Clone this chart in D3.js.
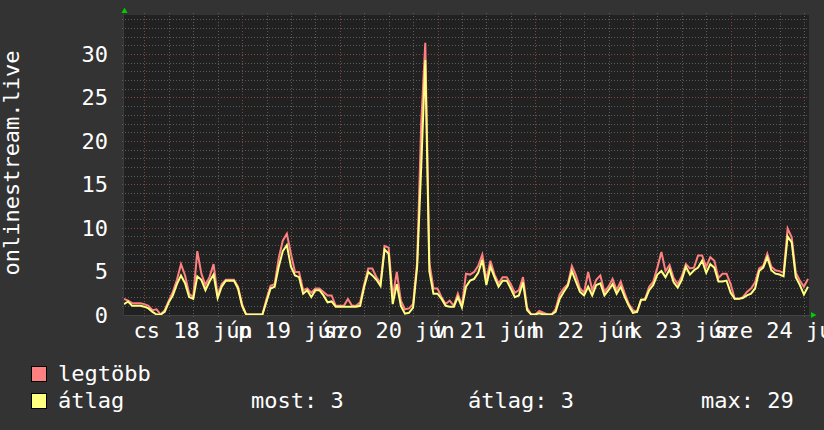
<!DOCTYPE html>
<html>
<head>
<meta charset="utf-8">
<script src="https://cdnjs.cloudflare.com/ajax/libs/d3/7.8.5/d3.min.js"></script>
<style>
body { margin: 0; background: #333333; }
svg text { font-family: "DejaVu Sans Mono", monospace; fill: #ffffff; }
</style>
</head>
<body>
<script>
var width = 824, height = 430;

// one sample per hour, from 2020-06-17 19:00 to 2020-06-24 19:00
var startTime = new Date(2020, 5, 17, 19, 0);
var endTime = new Date(2020, 5, 24, 19, 0);

var dayLabels = ["cs 18 jún", "p 19 jún", "szo 20 jún", "v 21 jún", "h 22 jún", "k 23 jún", "sze 24 jún"];
var labelDays = [18, 19, 20, 21, 22, 23, 24];
var yTicks = [0, 5, 10, 15, 20, 25, 30];

var maxValues = [1.8, 1.6, 1.3, 1.3, 1.3, 1.2, 1.0, 0.5, 0.6, 0, 0.5, 1.6, 2.6, 4.0, 5.8, 4.5, 2.4, 2.0, 7.3, 4.7,
  3.4, 4.3, 5.8, 2.2, 3.5, 4.0, 4.0, 4.0, 3.2, 1.2, 0, 0, 0, 0, 0, 1.8, 3.3, 3.5, 6.5, 8.5,
  9.3, 7.0, 4.9, 4.9, 2.8, 3.0, 2.5, 3.0, 3.0, 2.6, 2.2, 2.2, 1.0, 1.0, 1.0, 1.8, 1.0, 1.0, 1.4, 3.5,
  5.3, 5.3, 4.3, 3.6, 7.9, 7.7, 2.0, 4.9, 1.6, 0.6, 0.7, 1.2, 6.0, 22, 31.3, 6.0, 3.0, 3.0, 2.0, 1.2,
  1.6, 1.0, 2.4, 1.0, 4.7, 4.6, 4.9, 5.6, 6.9, 4.0, 6.2, 4.6, 3.6, 4.3, 4.3, 3.5, 2.5, 2.8, 4.3, 0.8,
  0, 0, 0.4, 0.2, 0, 0, 0.6, 2.3, 3.0, 3.5, 5.6, 4.5, 3.0, 2.5, 4.9, 2.8, 4.0, 4.5, 2.6, 3.2,
  4.1, 2.8, 3.8, 2.4, 1.2, 0.5, 0.3, 1.7, 1.8, 3.2, 3.8, 5.4, 7.2, 5.0, 5.7, 4.2, 3.5, 4.4, 5.8, 5.3,
  5.4, 6.8, 6.8, 5.5, 6.6, 6.2, 4.2, 4.7, 4.7, 3.5, 1.8, 1.8, 2.0, 2.6, 3.0, 3.7, 5.3, 5.6, 7.0, 5.5,
  5.1, 5.0, 4.8, 9.9, 8.9, 4.8, 3.9, 3.2, 4.1];

var avgValues = [1.2, 1.5, 1.0, 1.0, 1.0, 0.9, 0.7, 0.3, 0, 0, 0.3, 1.4, 2.2, 3.5, 4.5, 3.6, 2.0, 1.8, 4.4, 4.0,
  2.8, 3.8, 4.6, 1.9, 3.2, 3.9, 3.9, 3.9, 3.0, 1.0, 0, 0, 0, 0, 0, 1.5, 3.0, 3.2, 5.5, 7.3,
  8.0, 5.5, 4.5, 4.3, 2.4, 2.8, 2.0, 2.8, 2.8, 2.2, 1.4, 1.5, 0.9, 0.9, 0.9, 0.9, 0.9, 0.9, 1.0, 3.2,
  4.9, 4.5, 4.0, 3.3, 7.5, 7.0, 1.2, 3.5, 1.0, 0.1, 0.2, 0.8, 5.5, 17, 29.3, 5.0, 2.4, 2.4, 1.8, 1.0,
  0.9, 0.9, 2.0, 0.8, 3.2, 3.9, 4.1, 4.8, 6.3, 3.4, 5.5, 4.3, 3.2, 3.9, 3.9, 3.0, 2.0, 2.2, 3.7, 0.5,
  0, 0, 0.15, 0, 0, 0, 0.3, 1.8, 2.6, 3.3, 5.0, 3.8, 2.6, 2.2, 3.2, 2.2, 3.4, 3.6, 2.2, 2.8,
  3.5, 2.4, 3.2, 2.0, 1.0, 0.2, 0.3, 1.7, 1.7, 2.8, 3.4, 4.6, 5.0, 4.3, 5.2, 3.7, 3.1, 4.0, 5.5, 4.6,
  5.1, 5.4, 6.2, 4.8, 5.8, 5.4, 3.8, 3.8, 3.9, 2.5, 1.8, 1.8, 1.9, 2.2, 2.4, 3.0, 5.0, 5.4, 6.6, 5.1,
  4.7, 4.6, 4.4, 9.0, 8.3, 4.3, 3.4, 2.3, 3.2];

var legendNames = ["legtöbb", "átlag"];
var statLabels = ["most: 3", "átlag: 3", "max: 29"];

var maxColor = "#ff8080", avgColor = "#ffff80";

var plotLeft = 124, plotRight = 809, plotTop = 15, plotBottom = 315;

var x = d3.scaleTime().domain([startTime, endTime]).range([plotLeft, 808]);
var y = d3.scaleLinear().domain([0, 34.5]).range([314.5, plotTop]);

var svg = d3.select("body").append("svg")
    .attr("width", width)
    .attr("height", height);

svg.append("rect")
    .attr("x", 0).attr("y", 0)
    .attr("width", width).attr("height", height)
    .attr("fill", "#333333");

svg.append("rect")
    .attr("x", plotLeft).attr("y", plotTop)
    .attr("width", plotRight - plotLeft).attr("height", plotBottom - plotTop)
    .attr("fill", "#212121");

// grid
var minorY = d3.range(1, 35).filter(function(v) { return v % 5 != 0; });
var majorY = yTicks.filter(function(v) { return v > 0; });
var sixHours = d3.timeHour.every(6).range(startTime, endTime).filter(function(d) { return d.getHours() != 0; });
var midnights = d3.timeDay.range(startTime, endTime);

var grid = svg.append("g");
grid.selectAll(".hmin").data(minorY).enter().append("line")
    .attr("x1", plotLeft - 2).attr("x2", plotRight)
    .attr("y1", function(d) { return Math.round(y(d)) + 0.5; })
    .attr("y2", function(d) { return Math.round(y(d)) + 0.5; })
    .attr("stroke", "#5c5c5c").attr("stroke-dasharray", "1,2");
grid.selectAll(".vmin").data(sixHours).enter().append("line")
    .attr("y1", plotTop - 2).attr("y2", plotBottom + 2)
    .attr("x1", function(d) { return Math.round(x(d)) + 0.5; })
    .attr("x2", function(d) { return Math.round(x(d)) + 0.5; })
    .attr("stroke", "#5c5c5c").attr("stroke-dasharray", "1,2");
grid.selectAll(".hmaj").data(majorY).enter().append("line")
    .attr("x1", plotLeft - 2).attr("x2", plotRight)
    .attr("y1", function(d) { return Math.round(y(d)) + 0.5; })
    .attr("y2", function(d) { return Math.round(y(d)) + 0.5; })
    .attr("stroke", "#804444").attr("stroke-dasharray", "1,2");
grid.selectAll(".vmaj").data(midnights).enter().append("line")
    .attr("y1", plotTop - 2).attr("y2", plotBottom + 2)
    .attr("x1", function(d) { return Math.round(x(d)) + 0.5; })
    .attr("x2", function(d) { return Math.round(x(d)) + 0.5; })
    .attr("stroke", "#804444").attr("stroke-dasharray", "1,2");

svg.append("clipPath").attr("id", "plot")
  .append("rect")
    .attr("x", plotLeft).attr("y", plotTop)
    .attr("width", plotRight - plotLeft).attr("height", plotBottom - plotTop);

var line = d3.line()
    .x(function(d, i) { return x(d3.timeHour.offset(startTime, i)); })
    .y(function(d) { return y(d); });

svg.append("path")
    .datum(maxValues)
    .attr("clip-path", "url(#plot)")
    .attr("d", line)
    .attr("fill", "none")
    .attr("stroke", maxColor)
    .attr("stroke-width", 2);

svg.append("path")
    .datum(avgValues)
    .attr("clip-path", "url(#plot)")
    .attr("d", line)
    .attr("fill", "none")
    .attr("stroke", avgColor)
    .attr("stroke-width", 2);

// axes
svg.append("line")
    .attr("x1", plotLeft - 0.5).attr("x2", plotLeft - 0.5)
    .attr("y1", 12).attr("y2", plotBottom)
    .attr("stroke", "#3c3c3c");
svg.append("line")
    .attr("x1", plotLeft).attr("x2", 812)
    .attr("y1", plotBottom + 0.5).attr("y2", plotBottom + 0.5)
    .attr("stroke", "#444444");
svg.append("polygon")
    .attr("points", "121.5,13 127.5,13 124.5,7.5")
    .attr("fill", "#00cc00");
svg.append("polygon")
    .attr("points", "811,312 811,318 816.5,315")
    .attr("fill", "#00cc00");

svg.selectAll(".ylab").data(yTicks).enter().append("text")
    .attr("x", 108)
    .attr("y", function(d) { return y(d) + 8; })
    .attr("text-anchor", "end")
    .attr("font-size", 22)
    .text(function(d) { return d; });

svg.selectAll(".xlab").data(dayLabels).enter().append("text")
    .attr("x", function(d, i) { return x(new Date(2020, 5, labelDays[i], 12, 0)); })
    .attr("y", 338)
    .attr("text-anchor", "middle")
    .attr("font-size", 22)
    .text(function(d) { return d; });

svg.append("text")
    .attr("transform", "translate(18.5,163) rotate(-90)")
    .attr("text-anchor", "middle")
    .attr("font-size", 22)
    .text("onlinestream.live");

// legend
var legend = svg.selectAll(".leg").data(legendNames).enter().append("g");
legend.append("rect")
    .attr("x", 31.5)
    .attr("y", function(d, i) { return 366.5 + i * 27; })
    .attr("width", 15).attr("height", 15)
    .attr("fill", function(d, i) { return i == 0 ? maxColor : avgColor; })
    .attr("stroke", "#000000");
legend.append("text")
    .attr("x", 58)
    .attr("y", function(d, i) { return 380.5 + i * 27; })
    .attr("font-size", 22)
    .text(function(d) { return d; });

var statX = [251, 468, 701];
svg.selectAll(".stat").data(statLabels).enter().append("text")
    .attr("x", function(d, i) { return statX[i]; })
    .attr("y", 407.5)
    .attr("font-size", 22)
    .text(function(d) { return d; });
</script>
</body>
</html>
